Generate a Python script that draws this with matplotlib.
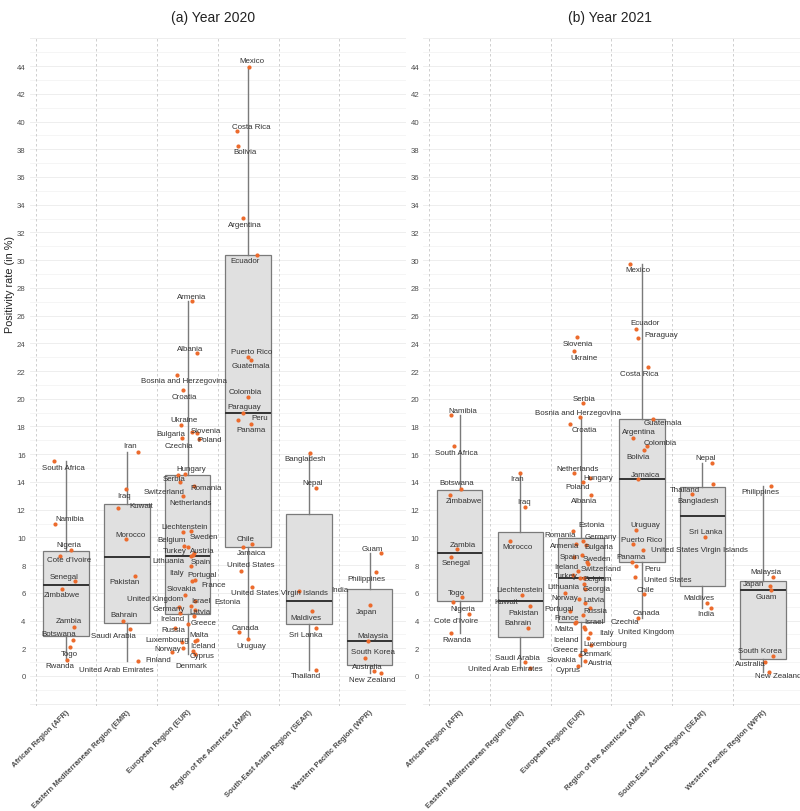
import matplotlib
matplotlib.use('Agg')
import matplotlib.pyplot as plt
import numpy as np

plt.rcParams['font.family'] = ['Liberation Sans', 'DejaVu Sans']

#%% ------------------------------- ###
###             Data                ###
### ------------------------------- ###

regions = ['African Region (AFR)', 'Eastern Mediterranean Region (EMR)',
           'European Region (EUR)', 'Region of the Americas (AMR)',
           'South-East Asian Region (SEAR)', 'Western Pacific Region (WPR)']

# 2020 positivity rates (%)
afr20 = ['South Africa', 'Namibia', 'Nigeria', "Cote d'Ivoire", 'Senegal', 'Zimbabwe',
         'Zambia', 'Botswana', 'Togo', 'Rwanda']
afr20_rate = [15.49, 10.99, 9.11, 8.67, 6.85, 6.28, 3.54, 2.62, 2.07, 1.18]

emr20 = ['Iran', 'Iraq', 'Kuwait', 'Morocco', 'Pakistan', 'Bahrain', 'Saudi Arabia',
         'United Arab Emirates']
emr20_rate = [16.18, 13.47, 12.1, 9.88, 7.24, 3.99, 3.37, 1.06]

eur20 = ['Armenia', 'Albania', 'Bosnia and Herzegovina', 'Croatia', 'Ukraine', 'Slovenia',
         'Czechia', 'Bulgaria', 'Poland', 'Hungary', 'Serbia', 'Switzerland', 'Romania',
         'Netherlands', 'Liechtenstein', 'Sweden', 'Belgium', 'Turkey', 'Austria', 'Spain',
         'Lithuania', 'Italy', 'Portugal', 'France', 'Slovakia', 'Israel', 'Estonia',
         'United Kingdom', 'Latvia', 'Germany', 'Ireland', 'Greece', 'Russia', 'Malta',
         'Iceland', 'Luxembourg', 'Norway', 'Cyprus', 'Finland', 'Denmark']
eur20_rate = [27.03, 23.3, 21.74, 20.61, 18.11, 17.58, 17.5, 17.14, 17.1, 14.6, 14.5, 14.02,
              13.73, 12.97, 10.44, 10.37, 9.4, 9.28, 8.9, 8.7, 8.66, 7.96, 6.93, 6.88, 5.84,
              5.43, 5.07, 5.0, 4.78, 4.52, 4.35, 3.75, 3.46, 2.6, 2.55, 2.43, 2.02, 1.83,
              1.7, 1.59]

amr20 = ['Mexico', 'Costa Rica', 'Bolivia', 'Argentina', 'Ecuador', 'Puerto Rico',
         'Guatemala', 'Colombia', 'Paraguay', 'Peru', 'Panama', 'Chile', 'Jamaica',
         'United States', 'United States Virgin Islands', 'Canada', 'Uruguay']
amr20_rate = [43.96, 39.3, 38.26, 33.02, 30.35, 22.99, 22.8, 20.1, 19.0, 18.47, 18.2, 9.52,
              9.31, 7.6, 6.4, 3.15, 2.67]

sear20 = ['Bangladesh', 'Nepal', 'India', 'Maldives', 'Sri Lanka', 'Thailand']
sear20_rate = [16.11, 13.56, 6.11, 4.67, 3.46, 0.46]

wpr20 = ['Guam', 'Philippines', 'Japan', 'Malaysia', 'South Korea', 'Australia', 'New Zealand']
wpr20_rate = [8.87, 7.5, 5.1, 2.55, 1.3, 0.34, 0.19]

# 2021 positivity rates (%)
afr21 = ['Namibia', 'South Africa', 'Botswana', 'Zimbabwe', 'Zambia', 'Senegal', 'Togo',
         'Nigeria', "Cote d'Ivoire", 'Rwanda']
afr21_rate = [18.81, 16.57, 13.49, 13.06, 9.14, 8.59, 5.68, 5.31, 4.45, 3.1]

emr21 = ['Iran', 'Iraq', 'Morocco', 'Kuwait', 'Pakistan', 'Bahrain', 'Saudi Arabia',
         'United Arab Emirates']
emr21_rate = [14.67, 12.17, 9.76, 5.82, 5.03, 3.44, 1.04, 0.6]

eur21 = ['Slovenia', 'Ukraine', 'Serbia', 'Bosnia and Herzegovina', 'Croatia', 'Netherlands',
         'Hungary', 'Poland', 'Albania', 'Estonia', 'Romania', 'Germany', 'Armenia',
         'Bulgaria', 'Spain', 'Sweden', 'Switzerland', 'Ireland', 'Turkey', 'Belgium',
         'Lithuania', 'Georgia', 'Norway', 'Liechtenstein', 'Latvia', 'Portugal', 'Russia',
         'France', 'Israel', 'Czechia', 'Malta', 'Italy', 'United Kingdom', 'Iceland',
         'Luxembourg', 'Greece', 'Denmark', 'Slovakia', 'Austria', 'Cyprus']
eur21_rate = [24.43, 23.43, 19.67, 18.66, 18.18, 14.62, 14.3, 14.0, 13.08, 10.48, 9.75, 9.52,
              9.45, 8.73, 8.6, 8.2, 8.1, 7.55, 7.31, 7.1, 7.04, 6.64, 6.3, 6.0, 5.56, 5.3,
              4.93, 4.71, 4.4, 3.9, 3.82, 3.51, 3.39, 3.08, 2.72, 2.26, 1.9, 1.5, 1.1, 0.75]

amr21 = ['Mexico', 'Ecuador', 'Paraguay', 'Costa Rica', 'Guatemala', 'Argentina', 'Colombia',
         'Bolivia', 'Jamaica', 'Uruguay', 'Puerto Rico', 'United States Virgin Islands',
         'Panama', 'Peru', 'United States', 'Chile', 'Canada']
amr21_rate = [29.73, 25.06, 24.41, 22.29, 18.52, 17.2, 16.6, 16.28, 14.19, 10.56, 9.5, 9.07,
              8.2, 7.94, 7.12, 5.89, 4.18]

sear21 = ['Nepal', 'Thailand', 'Bangladesh', 'Sri Lanka', 'Maldives', 'India']
sear21_rate = [15.37, 13.85, 13.1, 10.03, 5.27, 4.93]

wpr21 = ['Philippines', 'Malaysia', 'Japan', 'Guam', 'South Korea', 'Australia', 'New Zealand']
wpr21_rate = [13.71, 7.16, 6.49, 6.2, 1.42, 0.98, 0.3]

#%% ------------------------------- ###
###   Layout (jitter + label repel) ###
### ------------------------------- ###
# country: (x jitter in category units, label dx px, label dy px)

lay20 = {
    'South Africa': (-0.20, 9, -6), 'Namibia': (-0.19, 15, 5), 'Nigeria': (0.08, -2, 5),
    "Cote d'Ivoire": (-0.10, 9, -4), 'Senegal': (0.15, -11, 5), 'Zimbabwe': (-0.07, 0, -6),
    'Zambia': (0.13, -5, 6), 'Botswana': (0.12, -15, 6), 'Togo': (0.07, -1, -6),
    'Rwanda': (0.01, -7, -6),
    'Iran': (0.19, -8, 6), 'Iraq': (-0.02, -2, -6), 'Kuwait': (-0.14, 23, 3),
    'Morocco': (-0.02, 5, 5), 'Pakistan': (0.14, -11, -6), 'Bahrain': (-0.07, 1, 6),
    'Saudi Arabia': (0.05, -16, -6), 'United Arab Emirates': (0.19, -22, -8),
    'Armenia': (0.08, -1, 5), 'Albania': (0.15, -6, 5), 'Bosnia and Herzegovina': (-0.17, 7, -6),
    'Croatia': (-0.08, 2, -6), 'Ukraine': (-0.11, 3, 5), 'Slovenia': (0.08, 13, 2),
    'Czechia': (0.15, -18, -12), 'Bulgaria': (-0.09, -11, 5), 'Poland': (0.19, 11, -1),
    'Hungary': (-0.04, 6, 5), 'Serbia': (-0.16, -4, -4), 'Switzerland': (-0.13, -15, -10),
    'Romania': (0.10, 12, -2), 'Netherlands': (-0.08, 8, -6), 'Liechtenstein': (0.05, -6, 5),
    'Sweden': (-0.08, 21, -4), 'Belgium': (-0.05, -13, 6), 'Turkey': (0.0, -13, -3),
    'Austria': (0.10, 9, 2), 'Spain': (0.09, 8, -6), 'Lithuania': (0.05, -22, -5),
    'Italy': (0.05, -14, -7), 'Portugal': (0.13, 7, 5), 'France': (0.08, 21, -4),
    'Slovakia': (-0.04, -3, 7), 'Israel': (0.13, 5, 0), 'Estonia': (0.05, 37, 4),
    'United Kingdom': (-0.14, -24, 8), 'Latvia': (0.13, 5, -2), 'Germany': (-0.12, -11, 5),
    'Ireland': (0.10, -21, -3), 'Greece': (0.0, 16, 2), 'Russia': (-0.20, -2, -1),
    'Malta': (0.16, 2, 5), 'Iceland': (0.12, 8, -5), 'Luxembourg': (-0.09, -15, 3),
    'Norway': (-0.07, -16, -1), 'Cyprus': (0.09, 9, -5), 'Finland': (-0.25, -14, -7),
    'Denmark': (0.12, -3, -12),
    'Mexico': (0.02, 2, 6), 'Costa Rica': (-0.18, 14, 5), 'Bolivia': (-0.16, 7, -6),
    'Argentina': (-0.09, 2, -6), 'Ecuador': (0.14, -12, -5), 'Puerto Rico': (0.0, 3, 6),
    'Guatemala': (0.05, 0, -6), 'Colombia': (0.0, -3, 6), 'Paraguay': (-0.09, 2, 6),
    'Peru': (-0.16, 21, 2), 'Panama': (0.04, 0, -6), 'Chile': (0.07, -7, 6),
    'Jamaica': (-0.08, 8, -6), 'United States': (-0.12, 10, 6),
    'United States Virgin Islands': (0.06, 28, -5), 'Canada': (-0.15, 6, 5),
    'Uruguay': (0.0, 3, -7),
    'Bangladesh': (0.02, -5, -6), 'Nepal': (0.11, -3, 6), 'India': (-0.17, 41, 2),
    'Maldives': (0.05, -6, -6), 'Sri Lanka': (0.12, -10, -6), 'Thailand': (0.11, -10, -6),
    'Guam': (0.19, -9, 5), 'Philippines': (0.10, -9, -6), 'Japan': (0.01, -4, -6),
    'Malaysia': (-0.03, 5, 5), 'South Korea': (-0.07, 8, 6), 'Australia': (0.07, -7, 5),
    'New Zealand': (0.18, -8, -6),
}

lay21 = {
    'Namibia': (-0.14, 12, 5), 'South Africa': (-0.10, 3, -6), 'Botswana': (0.02, -4, 6),
    'Zimbabwe': (-0.16, 14, -6), 'Zambia': (-0.04, 6, 5), 'Senegal': (-0.15, 6, -6),
    'Togo': (0.03, -5, 5), 'Nigeria': (-0.11, 10, -6), "Cote d'Ivoire": (0.16, -13, -6),
    'Rwanda': (-0.15, 6, -6),
    'Iran': (0.0, -3, -6), 'Iraq': (0.07, -1, 6), 'Morocco': (-0.17, 7, -6),
    'Kuwait': (0.03, -16, -6), 'Pakistan': (0.15, -6, -6), 'Bahrain': (0.13, -10, 6),
    'Saudi Arabia': (0.08, -8, 4), 'United Arab Emirates': (0.16, -25, -1),
    'Slovenia': (-0.07, 1, -6), 'Ukraine': (-0.12, 10, -6), 'Serbia': (0.03, 1, 5),
    'Bosnia and Herzegovina': (-0.01, -3, 5), 'Croatia': (-0.19, 15, -6),
    'Netherlands': (-0.12, 4, 5), 'Hungary': (0.15, 8, 0), 'Poland': (0.03, -5, -5),
    'Albania': (0.16, -7, -6), 'Estonia': (-0.14, 19, 6), 'Romania': (0.03, -23, 6),
    'Germany': (-0.09, 25, 8), 'Armenia': (0.08, -21, -1), 'Bulgaria': (0.02, 16, 8),
    'Spain': (-0.12, -4, 0), 'Sweden': (0.09, 10, 4), 'Switzerland': (0.12, 13, -5),
    'Ireland': (-0.05, -12, 5), 'Turkey': (-0.14, -7, -1), 'Belgium': (-0.02, 18, -1),
    'Lithuania': (0.05, -21, -8), 'Georgia': (0.04, 13, -5), 'Norway': (0.07, -21, -9),
    'Liechtenstein': (-0.26, -46, 3), 'Latvia': (-0.04, 15, -1), 'Portugal': (0.07, -26, -6),
    'Russia': (0.15, 5, -3), 'France': (-0.19, -3, -7), 'Israel': (0.03, 11, -7),
    'Czechia': (-0.08, 49, 0), 'Malta': (-0.10, -11, -5), 'Italy': (0.04, 23, -5),
    'United Kingdom': (0.07, 61, -3), 'Iceland': (0.14, -24, -6), 'Luxembourg': (0.12, 17, -5),
    'Greece': (0.16, -25, -5), 'Denmark': (0.07, 10, -4), 'Slovakia': (-0.02, -18, -4),
    'Austria': (0.07, 15, -2), 'Cyprus': (-0.05, -10, -4),
    'Mexico': (-0.19, 8, -6), 'Ecuador': (-0.09, 9, 6), 'Paraguay': (-0.07, 24, 3),
    'Costa Rica': (0.10, -9, -6), 'Guatemala': (0.19, 10, -3), 'Argentina': (-0.15, 6, 6),
    'Colombia': (0.08, 14, 3), 'Bolivia': (0.04, -6, -6), 'Jamaica': (-0.06, 7, 5),
    'Uruguay': (-0.09, 9, 5), 'Puerto Rico': (-0.15, 9, 5),
    'United States Virgin Islands': (0.02, 56, 1), 'Panama': (-0.16, -1, 6),
    'Peru': (-0.10, 17, -3), 'United States': (-0.11, 33, -2), 'Chile': (0.04, 1, 5),
    'Canada': (-0.07, 9, 6),
    'Nepal': (0.15, -6, 5), 'Thailand': (0.17, -28, -5), 'Bangladesh': (-0.18, 7, -6),
    'Sri Lanka': (0.04, 1, 5), 'Maldives': (0.08, -8, 5), 'India': (0.14, -5, -6),
    'Philippines': (0.13, -11, -6), 'Malaysia': (0.16, -7, 5), 'Japan': (0.11, -16, 3),
    'Guam': (0.13, -5, -6), 'South Korea': (0.16, -13, 6), 'Australia': (0.03, -15, -1),
    'New Zealand': (0.10, 9, -4),
}

POINT = '#EC6B2D'
BOXFILL = '#E0E0E0'
TXT = '#333333'

#%% ------------------------------- ###
###           Plotting              ###
### ------------------------------- ###

def plot_year(ax, names, rates, layout):
    pos = np.arange(1, len(regions) + 1)

    # grid: light horizontal lines, dashed separators between regions
    for v in range(-2, 47):
        ax.axhline(v, color='#EBEBEB' if v % 2 == 0 else '#F4F4F4', lw=0.6, zorder=0)
    for p in pos:
        ax.axvline(p - 0.5, color='#C8C8C8', lw=0.6, ls=(0, (3, 3)), zorder=0)

    ax.boxplot(rates, positions=pos, widths=0.75, patch_artist=True, showfliers=False,
               showcaps=False, whis=1.5,
               boxprops=dict(facecolor=BOXFILL, edgecolor='#7A7A7A', lw=0.9),
               medianprops=dict(color='#333333', lw=1.4),
               whiskerprops=dict(color='#7A7A7A', lw=1.0), zorder=1)

    for p, cn, rt in zip(pos, names, rates):
        for c, r in zip(cn, rt):
            jit, dx, dy = layout[c]
            ax.scatter(p + jit, r, s=9, color=POINT, lw=0, zorder=3)
            ax.annotate(c, (p + jit, r), xytext=(dx, dy), textcoords='offset pixels',
                        ha='center', va='center', fontsize=5.7, color=TXT, zorder=4)

    ax.set_xlim(0.4, 6.6)
    ax.set_ylim(-2.165, 46.17)
    ax.set_yticks(range(0, 45, 2))
    ax.set_xticks(pos)
    ax.set_xticklabels(regions, rotation=45, ha='right', va='top', rotation_mode='anchor',
                       fontsize=5.5, fontweight='bold', color='#4D4D4D')
    ax.tick_params(axis='x', length=0, pad=1.5)
    ax.tick_params(axis='y', length=0, pad=3, labelsize=5.6, labelcolor='#4D4D4D')
    for s in ax.spines.values():
        s.set_visible(False)


fig = plt.figure(figsize=(8, 8.12), dpi=100)
W, H = 800, 812
ax1 = fig.add_axes([29.7 / W, 1 - 707 / H, 376.3 / W, 670 / H])
ax2 = fig.add_axes([423.3 / W, 1 - 707 / H, 376.3 / W, 670 / H])

plot_year(ax1, [afr20, emr20, eur20, amr20, sear20, wpr20],
          [afr20_rate, emr20_rate, eur20_rate, amr20_rate, sear20_rate, wpr20_rate], lay20)
plot_year(ax2, [afr21, emr21, eur21, amr21, sear21, wpr21],
          [afr21_rate, emr21_rate, eur21_rate, amr21_rate, sear21_rate, wpr21_rate], lay21)

fig.text(213 / W, 1 - 18 / H, '(a) Year 2020', ha='center', va='center', fontsize=10, color='#222222')
fig.text(610 / W, 1 - 18 / H, '(b) Year 2021', ha='center', va='center', fontsize=10, color='#222222')
fig.text(10 / W, 1 - 285 / H, 'Positivity rate (in %)', rotation=90, ha='center', va='center',
         fontsize=7.8, color='#222222')

fig.savefig('out.png', dpi=100)
